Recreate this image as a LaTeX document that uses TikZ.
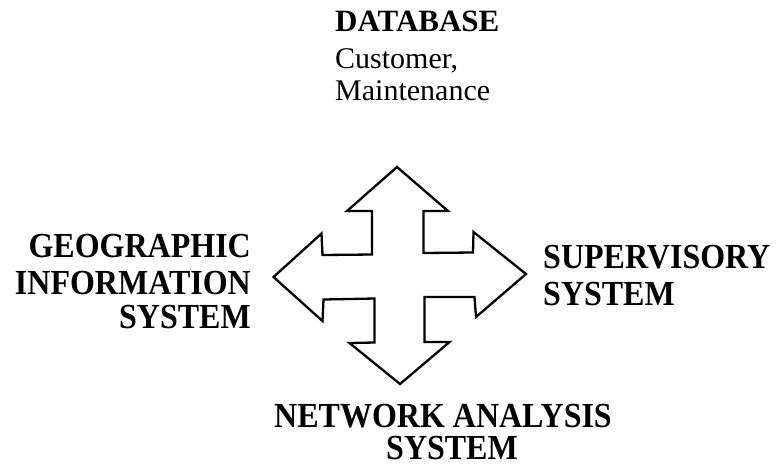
\documentclass[tikz,border=0pt]{standalone}
\usepackage{fontspec}
\setmainfont{Liberation Serif}
\newcommand{\tallt}[1]{\scalebox{1}[1.1]{#1}}
\begin{document}
\begin{tikzpicture}[x=1pt,y=-1pt,
  bold/.style={inner sep=0pt,font=\fontsize{32}{36}\selectfont\bfseries},
  reg/.style={inner sep=0pt,font=\fontsize{30}{34}\selectfont},
  crossline/.style={draw=black,line width=2.3pt,line join=miter}]
\useasboundingbox (0,0) rectangle (784,467);
% database block
\node[bold,anchor=base west,font=\fontsize{31}{36}\selectfont\bfseries] (db) at (335,31.5) {DATABASE};
\node[reg,anchor=base west] (dbcust) at (335,68) {Customer,};
\node[reg,anchor=base west] (dbmaint) at (335,100) {Maintenance};
% GIS block
\node[bold,anchor=base east] (gis1) at (251,257) {\tallt{GEOGRAPHIC}};
\node[bold,anchor=base east] (gis2) at (251,294) {\tallt{INFORMATION}};
\node[bold,anchor=base east] (gis3) at (251,328) {\tallt{SYSTEM}};
% supervisory block
\node[bold,anchor=base west] (sup1) at (543,268) {\tallt{SUPERVISORY}};
\node[bold,anchor=base west] (sup2) at (543,305) {\tallt{SYSTEM}};
% network block
\node[bold,anchor=base] (net1) at (443,427) {\tallt{NETWORK ANALYSIS}};
\node[bold,anchor=base] (net2) at (452,459.5) {\tallt{SYSTEM}};
% four-way arrow
\draw[crossline] (397,167) -- (448,211) -- (423.5,211) -- (423.5,253) -- (473,252.5)
  -- (473.5,232) -- (526,274) -- (476,317) -- (474.5,297) -- (424.5,297)
  -- (424.5,342) -- (449.5,342) -- (400,384) -- (349.5,343) -- (374.5,342.5)
  -- (374.5,298.5) -- (323.5,299.5) -- (322.5,321) -- (273.5,277) -- (321.5,233.5)
  -- (322.5,255) -- (372,254.5) -- (372,211) -- (347,211) -- cycle;
\end{tikzpicture}
\end{document}
